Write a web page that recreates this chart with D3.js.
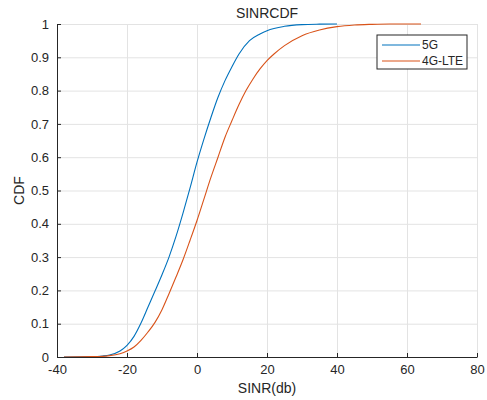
<!DOCTYPE html>
<html>
<head>
<meta charset="utf-8">
<script src="https://cdn.jsdelivr.net/npm/d3@7"></script>
<style>
  body { margin: 0; background: #fff; }
  text { font-family: "Liberation Sans", Arial, sans-serif; fill: #262626; }
</style>
</head>
<body>
<svg id="grafico"></svg>
<script>
// Datos (CDF del SINR)
const sinr5G = [-38, -30, -27, -25, -22, -20, -18, -16, -14, -12, -10, -8, -6, -4, -2, 0, 2, 4, 6, 8, 10, 12, 15, 18, 20, 25, 30, 35, 40];
const cdf5G = [0, 0.001, 0.003, 0.006, 0.018, 0.035, 0.062, 0.102, 0.15, 0.198, 0.247, 0.30, 0.362, 0.432, 0.507, 0.585, 0.655, 0.72, 0.78, 0.83, 0.872, 0.91, 0.95, 0.97, 0.98, 0.993, 0.998, 0.9995, 1];

const sinr4G = [-38, -30, -27, -25, -22, -20, -18, -16, -14, -12, -10, -8, -6, -4, -2, 0, 2, 4, 6, 8, 10, 12, 14, 16, 18, 20, 22, 25, 30, 35, 40, 45, 50, 55, 64];
const cdf4G = [0, 0.001, 0.002, 0.004, 0.01, 0.018, 0.03, 0.05, 0.075, 0.104, 0.142, 0.19, 0.24, 0.292, 0.35, 0.41, 0.475, 0.54, 0.60, 0.66, 0.71, 0.758, 0.80, 0.835, 0.865, 0.89, 0.91, 0.935, 0.965, 0.982, 0.992, 0.997, 0.999, 1, 1];

const series = ["5G", "4G-LTE"];
const colores = ["#0072BD", "#D95319"];

const xTicks = [-40, -20, 0, 20, 40, 60, 80];
const yTicks = [0, 0.1, 0.2, 0.3, 0.4, 0.5, 0.6, 0.7, 0.8, 0.9, 1];

const WIDTH = 487,
  HEIGHT = 400;

const margins = { top: 24, bottom: 43, left: 57, right: 10 };
const anchoPlot = WIDTH - margins.left - margins.right;
const altoPlot = HEIGHT - margins.top - margins.bottom;

const svg = d3.select("#grafico")
  .attr("width", WIDTH)
  .attr("height", HEIGHT);

const escalaX = d3.scaleLinear().domain([-40, 80]).range([0, anchoPlot]);
const escalaY = d3.scaleLinear().domain([0, 1]).range([altoPlot, 0]);

const contenedor = svg.append("g")
  .attr("transform", `translate(${margins.left} ${margins.top})`);

// grilla
contenedor.append("g")
  .attr("transform", `translate(0 ${altoPlot})`)
  .call(d3.axisBottom(escalaX).tickValues(xTicks).tickSize(-altoPlot).tickFormat(""))
  .call(g => g.select(".domain").remove())
  .selectAll("line").attr("stroke", "#e3e3e3");

contenedor.append("g")
  .call(d3.axisLeft(escalaY).tickValues(yTicks).tickSize(-anchoPlot).tickFormat(""))
  .call(g => g.select(".domain").remove())
  .selectAll("line").attr("stroke", "#e3e3e3");

// curvas
const linea = d3.line()
  .x(d => escalaX(d[0]))
  .y(d => escalaY(d[1]))
  .curve(d3.curveMonotoneX);

const datos = [
  d3.zip(sinr5G, cdf5G),
  d3.zip(sinr4G, cdf4G)
];

contenedor.selectAll("path.curva")
  .data(datos)
  .join("path")
  .attr("class", "curva")
  .attr("d", linea)
  .attr("fill", "none")
  .attr("stroke", (_, i) => colores[i])
  .attr("stroke-width", 1.1);

// ejes (guion normal en los negativos, como en el original)
const ejeX = contenedor.append("g")
  .attr("transform", `translate(0 ${altoPlot})`)
  .call(d3.axisBottom(escalaX).tickValues(xTicks).tickSizeInner(-4).tickSizeOuter(0).tickPadding(8)
    .tickFormat(d => String(d)));

const ejeY = contenedor.append("g")
  .call(d3.axisLeft(escalaY).tickValues(yTicks).tickSizeInner(-4).tickSizeOuter(0).tickPadding(8)
    .tickFormat(d => String(d)));

[ejeX, ejeY].forEach(eje => {
  eje.selectAll(".domain, line").attr("stroke", "#262626");
  eje.selectAll("text")
    .attr("fill", "#262626")
    .style("font-size", "13px")
    .style("font-family", "\"Liberation Sans\", Arial, sans-serif");
});

// titulos
svg.append("text")
  .attr("x", margins.left + anchoPlot / 2)
  .attr("y", 18)
  .attr("text-anchor", "middle")
  .style("font-size", "14px")
  .text("SINRCDF");

svg.append("text")
  .attr("x", margins.left + anchoPlot / 2)
  .attr("y", 393)
  .attr("text-anchor", "middle")
  .style("font-size", "14px")
  .text("SINR(db)");

svg.append("text")
  .attr("transform", `translate(24 ${margins.top + altoPlot / 2}) rotate(-90)`)
  .attr("text-anchor", "middle")
  .style("font-size", "14px")
  .text("CDF");

// leyenda
const leyenda = svg.append("g")
  .attr("transform", "translate(377 35)");

leyenda.append("rect")
  .attr("width", 90)
  .attr("height", 34)
  .attr("fill", "#fff")
  .attr("stroke", "#262626")
  .attr("stroke-width", 1);

const items = leyenda.selectAll("g.item")
  .data(series)
  .join("g")
  .attr("class", "item")
  .attr("transform", (_, i) => `translate(0 ${10 + i * 16})`);

items.append("line")
  .attr("x1", 5)
  .attr("x2", 43)
  .attr("stroke", (_, i) => colores[i])
  .attr("stroke-width", 1.1);

items.append("text")
  .attr("x", 45)
  .attr("dominant-baseline", "central")
  .style("font-size", "12px")
  .text(d => d);
</script>
</body>
</html>
